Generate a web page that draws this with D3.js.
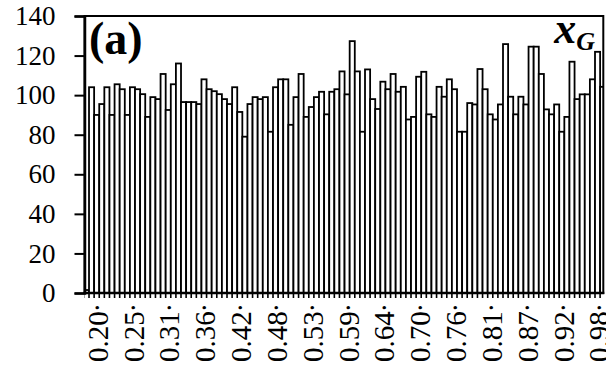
<!DOCTYPE html>
<html>
<head>
<meta charset="utf-8">
<script src="https://cdn.jsdelivr.net/npm/d3@7/dist/d3.min.js"></script>
<style>
  html, body { margin: 0; padding: 0; background: #fff; }
  svg { display: block; }
</style>
</head>
<body>
<svg id="chart" width="606" height="370"></svg>
<script>
// ---- data ----
const binStart = 0.17903;
const binWidth = 0.008;
const counts = [
  1.5,
  104, 90, 95.5, 104, 90, 105.5, 103, 90, 104, 103,
  100.5, 89, 99, 98, 110.7, 92.5, 105.5, 116, 96.5, 96.5,
  96.5, 95.5, 108, 103, 102, 100.5, 98, 95.5, 104, 91.5,
  79, 95.5, 99, 98, 99, 81.5, 104, 108, 108, 85,
  99, 110.7, 89, 94, 99, 101.7, 90.3, 101.7, 103, 112,
  100.4, 127.3, 112, 81.5, 113, 98, 93, 106.8, 103, 110.7,
  101.7, 104.2, 87.7, 89, 109.3, 111.8, 90.3, 89, 104.2, 99.2,
  108, 103, 81.5, 81.5, 96, 95.3, 113.2, 103, 90.3, 87.7,
  95.3, 125.8, 99.2, 90.3, 99.2, 95.3, 124.5, 124.5, 110.7, 92.8,
  90.3, 95.3, 81.5, 89, 116.9, 98, 100.4, 100.4, 108, 121.9,
  104.2
];
const xTickValues = [0.2, 0.2561, 0.3122, 0.3683, 0.4244, 0.4805, 0.5366, 0.5927, 0.6488, 0.7049, 0.7610, 0.8171, 0.8732, 0.9293, 0.9854];
const xTickLabels = ["0.20", "0.25", "0.31", "0.36", "0.42", "0.48", "0.53", "0.59", "0.64", "0.70", "0.76", "0.81", "0.87", "0.92", "0.98"];
const yTickValues = [0, 20, 40, 60, 80, 100, 120, 140];
const panelLabel = "(a)";

// ---- layout ----
const FONT = "'Liberation Serif', 'Times New Roman', serif";
const pLeft = 84.5, pRight = 603.3, pTop = 16, pBottom = 293;
const pxStart = 83.9, pitch = 5.111;
const svg = d3.select("#chart");
const bins = counts.map((c, i) => ({ x0: binStart + i * binWidth, x1: binStart + (i + 1) * binWidth, c }));

const x = d3.scaleLinear()
  .domain([binStart, binStart + counts.length * binWidth])
  .range([pxStart, pxStart + counts.length * pitch]);
const y = d3.scaleLinear().domain([0, 140]).range([pBottom, pTop]);

svg.append("defs").append("clipPath").attr("id", "plotclip")
  .append("rect").attr("x", pLeft).attr("y", 0).attr("width", pRight - pLeft).attr("height", pBottom + 10);

// x axis labels (drawn first)
const xAxis = d3.axisBottom(x).tickValues(xTickValues).tickSize(0).tickFormat("");
const gx = svg.append("g").attr("transform", `translate(0,${pBottom})`).call(xAxis);
gx.select(".domain").remove();
gx.selectAll(".tick").each(function (d, i) {
  const t = d3.select(this).append("text")
    .attr("fill", "#000")
    .attr("font-size", 29)
    .attr("text-anchor", "end")
    .attr("transform", "rotate(-90)")
    .attr("x", -11).attr("y", 0).attr("dy", "0.34em")
    .style("font-family", FONT);
  t.append("tspan").text(xTickLabels[i]);
  t.append("tspan").attr("dy", "-0.3em").text(".");
});

// bars
const gb = svg.append("g").attr("clip-path", "url(#plotclip)");
gb.selectAll("rect").data(bins).join("rect")
  .attr("x", d => x(d.x0))
  .attr("width", d => x(d.x1) - x(d.x0))
  .attr("y", d => y(d.c))
  .attr("height", d => y(0) - y(d.c))
  .attr("fill", "#fff")
  .attr("stroke", "#000")
  .attr("stroke-width", 1.8);

// small ticks at each bin edge
gb.append("g").selectAll("line").data(bins).join("line")
  .attr("x1", d => x(d.x0)).attr("x2", d => x(d.x0))
  .attr("y1", pBottom).attr("y2", pBottom + 5)
  .attr("stroke", "#000").attr("stroke-width", 1.6);

// frame
svg.append("rect")
  .attr("x", pLeft).attr("y", pTop)
  .attr("width", pRight - pLeft).attr("height", pBottom - pTop)
  .attr("fill", "none").attr("stroke", "#000").attr("stroke-width", 2);
svg.append("line")
  .attr("x1", pLeft - 1).attr("x2", pRight + 1).attr("y1", pBottom).attr("y2", pBottom)
  .attr("stroke", "#000").attr("stroke-width", 2.5);

// y axis
const yAxis = d3.axisLeft(y).tickValues(yTickValues).tickSize(10).tickPadding(19);
const gy = svg.append("g").attr("transform", `translate(${pLeft},0)`).call(yAxis);
gy.select(".domain").attr("stroke-width", 2.5);
gy.selectAll(".tick line").attr("stroke-width", 2);
gy.selectAll(".tick text")
  .attr("font-size", 27).attr("fill", "#000")
  .style("font-family", FONT);

// panel label
svg.append("text")
  .attr("x", 89).attr("y", 54)
  .style("font-family", FONT)
  .attr("font-weight", "bold").attr("font-size", 46)
  .text(panelLabel);

// variable label x_G
const vl = svg.append("text")
  .attr("x", 595).attr("y", 43)
  .attr("text-anchor", "end")
  .style("font-family", FONT)
  .attr("font-weight", "bold").attr("font-style", "italic");
vl.append("tspan").attr("font-size", 44).text("x");
vl.append("tspan").attr("font-size", 26).attr("dy", 7).text("G");
</script>
</body>
</html>
